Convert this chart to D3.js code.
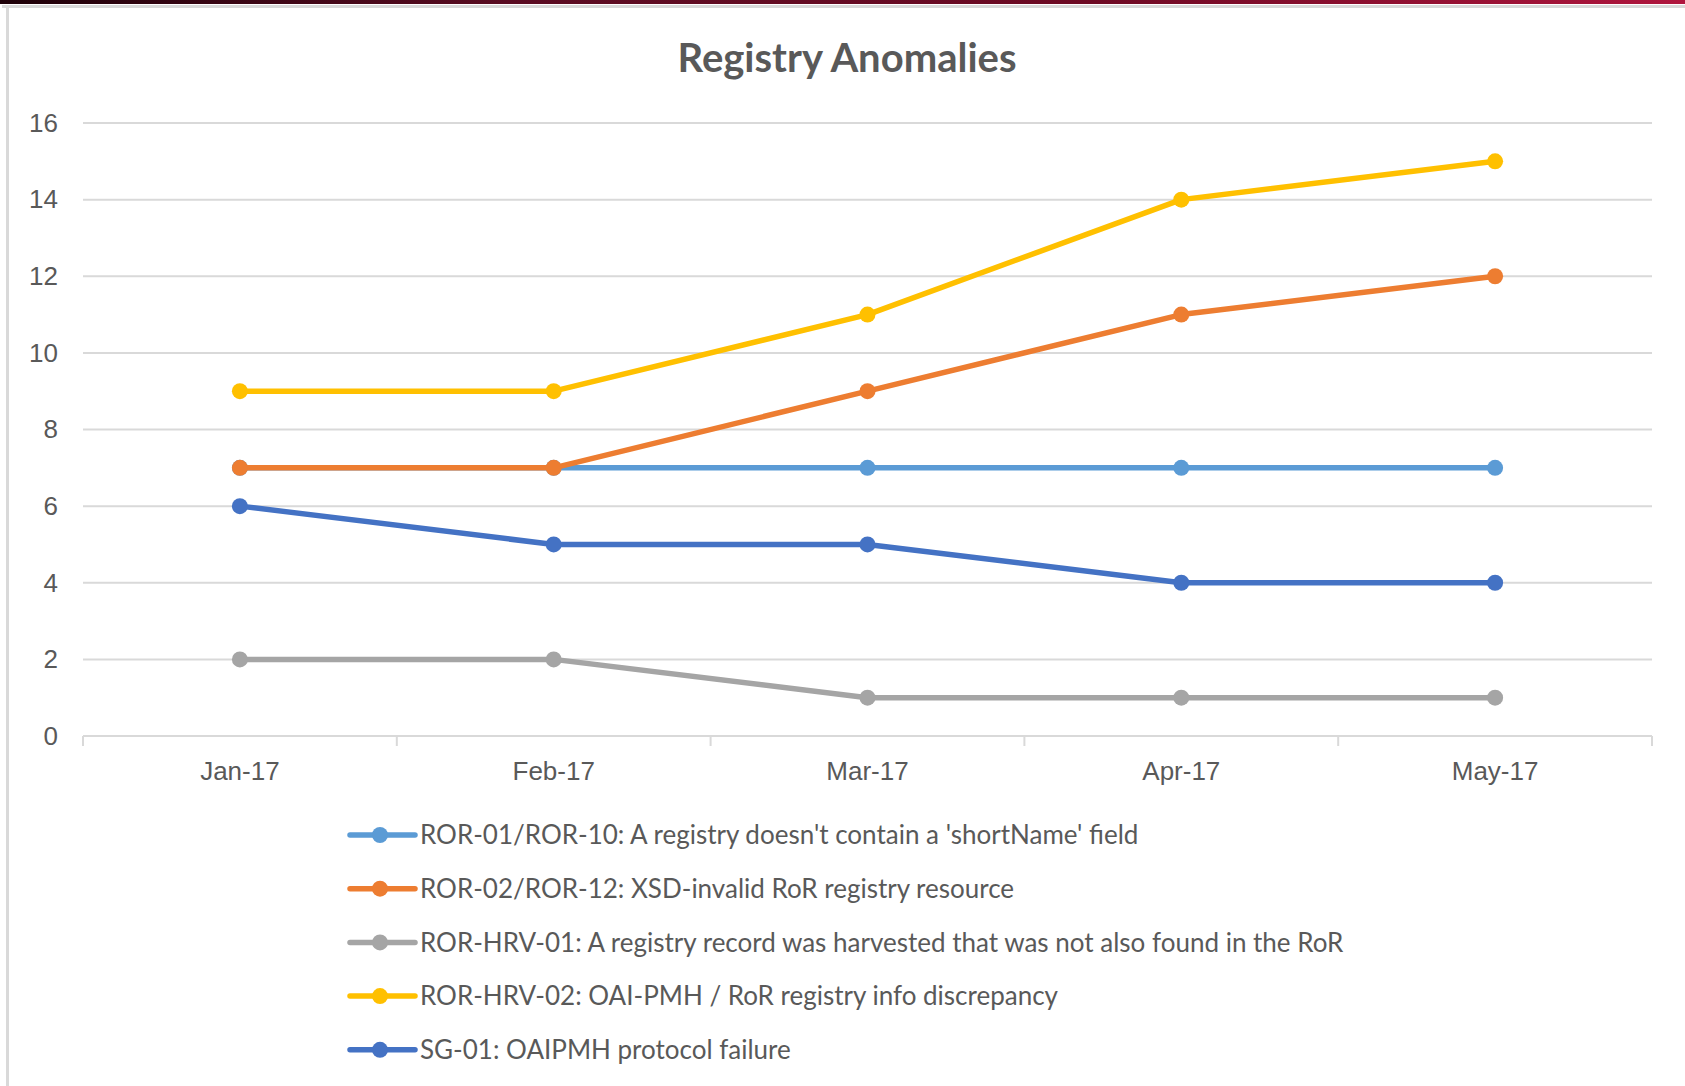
<!DOCTYPE html>
<meta charset="utf-8">
<style>
    body { margin: 0; background: #fff; }
    svg { font-family: Lato, "Open Sans", sans-serif; }
    .axis text { fill: #595959; font-size: 26px; }
    .grid line { stroke: #d9d9d9; stroke-width: 2; }
    .legend text { fill: #595959; font-size: 26px; }
</style>
<body>
<script src="https://d3js.org/d3.v7.min.js"></script>
<script>
    // data
    const months = ['Jan-17', 'Feb-17', 'Mar-17', 'Apr-17', 'May-17'];
    const seriesNames = [
        "ROR-01/ROR-10: A registry doesn't contain a 'shortName' field",
        "ROR-02/ROR-12: XSD-invalid RoR registry resource",
        "ROR-HRV-01: A registry record was harvested that was not also found in the RoR",
        "ROR-HRV-02: OAI-PMH / RoR registry info discrepancy",
        "SG-01: OAIPMH protocol failure"
    ];
    const ror01 = [7, 7, 7, 7, 7];
    const ror02 = [7, 7, 9, 11, 12];
    const hrv01 = [2, 2, 1, 1, 1];
    const hrv02 = [9, 9, 11, 14, 15];
    const sg01 = [6, 5, 5, 4, 4];
    const yTicks = [0, 2, 4, 6, 8, 10, 12, 14, 16];
    const colors = ['#5b9bd5', '#ed7d31', '#a5a5a5', '#ffc000', '#4472c4'];

    const series = [ror01, ror02, hrv01, hrv02, sg01].map((v, i) => ({
        name: seriesNames[i], values: v, color: colors[i]
    }));

    const width = 1685, height = 1086;
    const margin = {top: 123, right: 33, bottom: 350, left: 83};

    const svg = d3.select('body').append('svg')
        .attr('width', width)
        .attr('height', height);

    // dark strip at the top of the screenshot
    const grad = svg.append('defs').append('linearGradient')
        .attr('id', 'strip');
    grad.append('stop').attr('offset', '0%').attr('stop-color', '#1e0008');
    grad.append('stop').attr('offset', '30%').attr('stop-color', '#5a0c22');
    grad.append('stop').attr('offset', '65%').attr('stop-color', '#6e0a24');
    grad.append('stop').attr('offset', '100%').attr('stop-color', '#b0163e');
    svg.append('rect').attr('x', 0).attr('y', 0).attr('width', width).attr('height', 4)
        .style('fill', 'url(#strip)');

    // chart frame
    svg.append('rect').attr('x', 2).attr('y', 5).attr('width', width).attr('height', 3).style('fill', '#d9d9d9');
    svg.append('rect').attr('x', 6).attr('y', 5).attr('width', 3).attr('height', height).style('fill', '#d9d9d9');

    const x = d3.scaleBand()
        .domain(months)
        .range([margin.left, width - margin.right]);

    const y = d3.scaleLinear()
        .domain([0, 16])
        .range([height - margin.bottom, margin.top]);

    // title
    svg.append('text')
        .attr('x', 847)
        .attr('y', 72)
        .style('text-anchor', 'middle')
        .style('font-size', '40px')
        .style('font-weight', 'bold')
        .style('fill', '#595959')
        .text('Registry Anomalies');

    // gridlines
    svg.append('g')
        .attr('class', 'grid')
        .selectAll('line')
        .data(yTicks.filter(d => d > 0))
        .enter().append('line')
        .attr('x1', margin.left)
        .attr('x2', width - margin.right)
        .attr('y1', d => y(d))
        .attr('y2', d => y(d));

    // y axis (labels only)
    const yAxis = svg.append('g')
        .attr('class', 'y axis')
        .attr('transform', 'translate(' + margin.left + ',0)')
        .call(d3.axisLeft(y).tickValues(yTicks).tickSize(0).tickPadding(25));
    yAxis.select('.domain').remove();

    // x axis
    const xAxis = svg.append('g')
        .attr('class', 'x axis')
        .attr('transform', 'translate(0,' + y(0) + ')')
        .call(d3.axisBottom(x).tickSize(0).tickPadding(26));
    xAxis.select('.domain')
        .attr('d', 'M' + margin.left + ',0H' + (width - margin.right))
        .style('stroke', '#d9d9d9')
        .style('stroke-width', 2);
    xAxis.selectAll('.tick line').remove();
    // category boundary ticks
    xAxis.selectAll('.bound')
        .data(d3.range(months.length + 1))
        .enter().append('line')
        .attr('class', 'bound')
        .attr('x1', i => margin.left + i * x.step())
        .attr('x2', i => margin.left + i * x.step())
        .attr('y1', 0)
        .attr('y2', 10)
        .style('stroke', '#d9d9d9')
        .style('stroke-width', 2);

    const line = d3.line()
        .x((d, i) => x(months[i]) + x.bandwidth() / 2)
        .y(d => y(d));

    const lines = svg.append('g').attr('class', 'lines');
    series.forEach(s => {
        const g = lines.append('g');
        g.append('path')
            .datum(s.values)
            .attr('d', line)
            .style('fill', 'none')
            .style('stroke', s.color)
            .style('stroke-width', 5.5)
            .style('stroke-linejoin', 'round')
            .style('stroke-linecap', 'round');
        g.selectAll('circle')
            .data(s.values)
            .enter().append('circle')
            .attr('cx', (d, i) => x(months[i]) + x.bandwidth() / 2)
            .attr('cy', d => y(d))
            .attr('r', 8)
            .style('fill', s.color);
    });

    // legend
    const legend = svg.append('g')
        .attr('class', 'legend')
        .selectAll('g')
        .data(series)
        .enter().append('g')
        .attr('transform', (d, i) => 'translate(350,' + (835 + i * 53.7) + ')');

    legend.append('line')
        .attr('x1', 0).attr('x2', 65)
        .style('stroke', d => d.color)
        .style('stroke-width', 5.5)
        .style('stroke-linecap', 'round');
    legend.append('circle')
        .attr('cx', 30).attr('r', 8)
        .style('fill', d => d.color);
    legend.append('text')
        .attr('x', 70)
        .attr('dy', '0.35em')
        .text(d => d.name);
</script>
</body>
</html>
